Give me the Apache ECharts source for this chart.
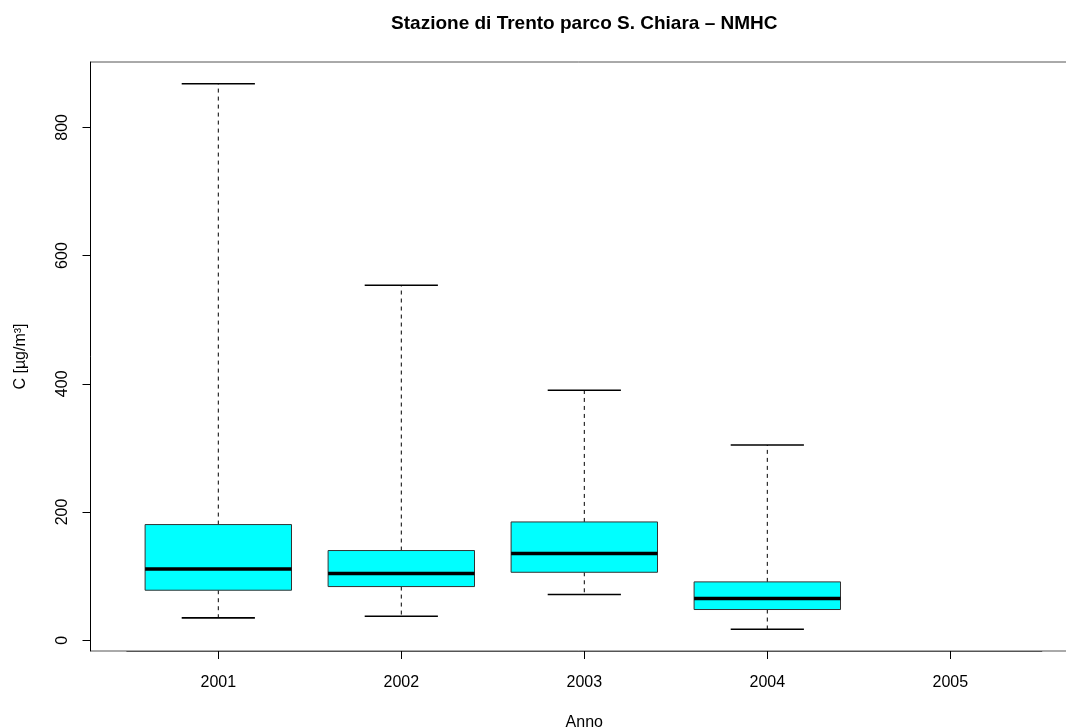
<!DOCTYPE html>
<html>
<head>
<meta charset="utf-8">
<script src="https://cdn.jsdelivr.net/npm/echarts@6/dist/echarts.min.js"></script>
<style>
html,body{margin:0;padding:0;background:#fff;}
#main{width:1066px;height:728px;}
</style>
</head>
<body>
<div id="main"></div>
<script>
// ---- data ----
const years = ['2001', '2002', '2003', '2004', '2005'];
const whiskerLow  = [34.8, 37.4, 71.3, 17.2];
const q1          = [78.0, 83.7, 106.0, 47.9];
const median      = [111.2, 104.0, 135.2, 65.0];
const q3          = [180.4, 139.9, 184.5, 91.0];
const whiskerHigh = [868.0, 553.6, 390.0, 304.6];
const yTicks = [0, 200, 400, 600, 800];
const titleText = 'Stazione di Trento parco S. Chiara \u2013 NMHC';
const xName = 'Anno';
const yName = 'C [\u00b5g/m\u00b3]';

const yMin = -16.8, yMax = 901.9;
const FONT = '"Liberation Sans", Arial, Helvetica, sans-serif';

const boxData = whiskerLow.map((v, i) => [i, v, q1[i], median[i], q3[i], whiskerHigh[i]]);

const chart = echarts.init(document.getElementById('main'), null, {renderer: 'canvas'});

function renderBox(params, api) {
  const x = api.value(0);
  const pLo = api.coord([x, api.value(1)]);
  const pQ1 = api.coord([x, api.value(2)]);
  const pMed = api.coord([x, api.value(3)]);
  const pQ3 = api.coord([x, api.value(4)]);
  const pHi = api.coord([x, api.value(5)]);
  const band = api.size([1, 0])[0];
  const bw = band * 0.8, cw = band * 0.4;
  const cx = pMed[0];
  return {
    type: 'group',
    children: [
      {type: 'line', shape: {x1: cx, y1: pQ3[1], x2: cx, y2: pHi[1]},
        style: {stroke: '#000', lineWidth: 1, lineDash: [4, 4]}},
      {type: 'line', shape: {x1: cx, y1: pQ1[1], x2: cx, y2: pLo[1]},
        style: {stroke: '#000', lineWidth: 1, lineDash: [4, 4]}},
      {type: 'line', shape: {x1: cx - cw / 2, y1: pHi[1], x2: cx + cw / 2, y2: pHi[1]},
        style: {stroke: '#000', lineWidth: 1.6}},
      {type: 'line', shape: {x1: cx - cw / 2, y1: pLo[1], x2: cx + cw / 2, y2: pLo[1]},
        style: {stroke: '#000', lineWidth: 1.6}},
      {type: 'rect', shape: {x: cx - bw / 2, y: pQ3[1], width: bw, height: pQ1[1] - pQ3[1]},
        style: {fill: '#00ffff', stroke: '#333', lineWidth: 1}},
      {type: 'line', shape: {x1: cx - bw / 2, y1: pMed[1], x2: cx + bw / 2, y2: pMed[1]},
        style: {stroke: '#000', lineWidth: 3.5}}
    ]
  };
}

const option = {
  backgroundColor: '#fff',
  animation: false,
  textStyle: {fontFamily: FONT},
  graphic: [{
    type: 'text', x: 584.3, y: 24,
    style: {text: titleText, align: 'center', verticalAlign: 'middle',
      font: 'bold 19px ' + FONT, fill: '#000'}
  }],
  grid: [
    {left: 90.5, top: 62, right: -12.7, bottom: 77, show: true, borderColor: '#555', borderWidth: 1,
      backgroundColor: 'transparent', containLabel: false, outerBoundsMode: 'none'},
    {left: 126.8, top: 62, width: 915, bottom: 77, containLabel: false, outerBoundsMode: 'none'}
  ],
  xAxis: [
    {gridIndex: 0, type: 'value', min: 0, max: 1, show: false},
    {gridIndex: 1, type: 'category', data: years, boundaryGap: true, position: 'bottom',
      axisLine: {show: true, onZero: false, lineStyle: {color: '#555', width: 1}},
      axisTick: {show: true, inside: false, alignWithLabel: true, length: 8, lineStyle: {color: '#000', width: 1}},
      axisLabel: {color: '#000', fontSize: 16, margin: 24, fontFamily: FONT},
      splitLine: {show: false},
      name: xName, nameLocation: 'middle', nameGap: 64,
      nameTextStyle: {color: '#000', fontSize: 16, fontFamily: FONT}}
  ],
  yAxis: [
    {gridIndex: 0, type: 'value', min: yMin, max: yMax,
      axisLine: {show: true, lineStyle: {color: '#000', width: 1}},
      axisTick: {show: true, length: 8, customValues: yTicks, lineStyle: {color: '#000', width: 1}},
      axisLabel: {show: true, customValues: yTicks, rotate: 90, color: '#000', fontSize: 16, margin: 20, fontFamily: FONT},
      splitLine: {show: false},
      name: yName, nameLocation: 'middle', nameGap: 62,
      nameTextStyle: {color: '#000', fontSize: 16, fontFamily: FONT}},
    {gridIndex: 1, type: 'value', min: yMin, max: yMax, show: false, splitLine: {show: false}}
  ],
  series: [{
    type: 'custom',
    xAxisIndex: 1, yAxisIndex: 1,
    renderItem: renderBox,
    encode: {x: 0, y: [1, 2, 3, 4, 5]},
    data: boxData,
    clip: false
  }]
};
chart.setOption(option);
</script>
</body>
</html>
